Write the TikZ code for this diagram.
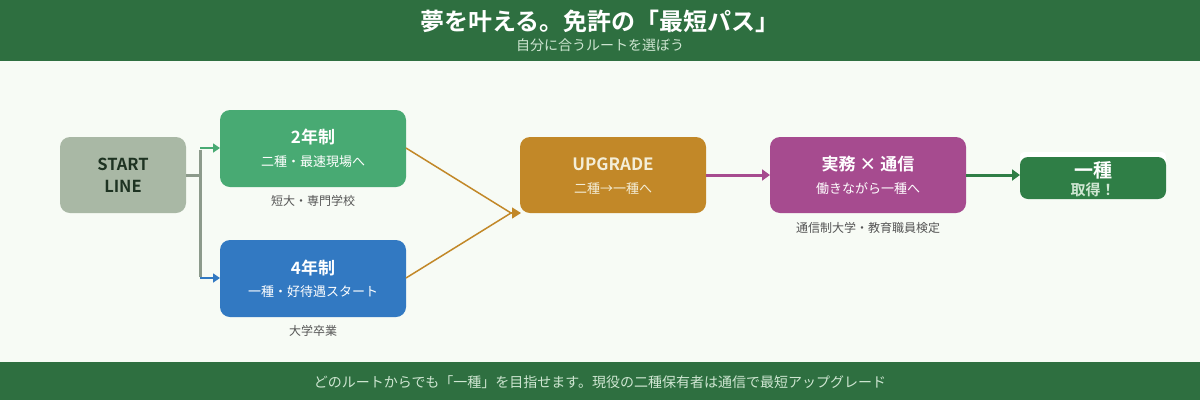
\documentclass[tikz,border=0pt]{standalone}
\usepackage{fontspec}
\setmainfont{Noto Sans CJK JP}
\newfontfamily\jpb{Noto Sans CJK JP Bold}
\usetikzlibrary{arrows.meta}
\definecolor{hdr}{HTML}{2E6F40}
\definecolor{bg}{HTML}{F7FBF5}
\definecolor{subc}{HTML}{CFE6D2}
\definecolor{startc}{HTML}{A9B8A5}
\definecolor{startt}{HTML}{1E3322}
\definecolor{twoc}{HTML}{48AA73}
\definecolor{fourc}{HTML}{3279C2}
\definecolor{upc}{HTML}{C28828}
\definecolor{jitc}{HTML}{A64B8F}
\definecolor{endc}{HTML}{2F7E46}
\definecolor{trunk}{HTML}{8C9A8B}
\definecolor{lbl}{HTML}{555555}
\definecolor{ltext}{HTML}{F4EED8}
\tikzset{
  lab/.style={font=\fontsize{12}{14}\selectfont, text=lbl},
  conn/.style={line width=2.5pt, -{Triangle[length=7pt,width=9pt]}},
  link/.style={line width=1.5pt},
  ttl/.style={font=\jpb\fontsize{17}{19}\selectfont},
  stl/.style={font=\fontsize{13}{15}\selectfont},
}
\begin{document}
\begin{tikzpicture}[x=1pt,y=-1pt]
\useasboundingbox (0,0) rectangle (1200,400);
\fill[bg] (0,0) rectangle (1200,400);
\fill[hdr] (0,0) rectangle (1200,61);
\fill[hdr] (0,362) rectangle (1200,400);
\node[text=white, font=\jpb\fontsize{24}{26}\selectfont] (title) at (600,21) {夢を叶える。免許の「最短パス」};
\node[text=subc, font=\fontsize{14}{16}\selectfont] (sub) at (600,45) {自分に合うルートを選ぼう};
\node[text=subc, font=\fontsize{14}{16}\selectfont] (foot) at (600,382) {どのルートからでも「一種」を目指せます。現役の二種保有者は通信で最短アップグレード};
% boxes
\fill[startc, rounded corners=10pt] (60,137) rectangle (186,213);
\node[text=startt, font=\jpb\fontsize{16.5}{22}\selectfont, align=center] (start) at (123,175) {START\\LINE};
\coordinate (startE) at (186,175);
\fill[twoc, rounded corners=10pt] (220,110) rectangle (406,187);
\node[text=white, ttl] (twoT) at (313,137) {2年制};
\node[text=white, stl] (twoS) at (313,162) {二種・最速現場へ};
\node[lab] (twoL) at (313,201) {短大・専門学校};
\fill[fourc, rounded corners=10pt] (220,240) rectangle (406,317);
\node[text=white, ttl] (fourT) at (313,268) {4年制};
\node[text=white, stl] (fourS) at (313,292) {一種・好待遇スタート};
\node[lab] (fourL) at (313,331) {大学卒業};
\fill[upc, rounded corners=10pt] (520,137) rectangle (706,213);
\node[text=ltext, ttl] (upT) at (613,164) {UPGRADE};
\node[text=ltext, stl] (upS) at (613,189) {二種→一種へ};
\fill[jitc, rounded corners=10pt] (770,137) rectangle (966,213);
\node[text=white, ttl] (jT) at (868,164) {実務 × 通信};
\node[text=white, stl] (jS) at (868,189) {働きながら一種へ};
\node[lab] (jL) at (868,228) {通信制大学・教育職員検定};
\fill[white, rounded corners=4pt] (1020,152) rectangle (1166,165);
\fill[endc, rounded corners=8pt] (1020,157) rectangle (1166,199);
\node[text=white, font=\jpb\fontsize{19}{20}\selectfont] (eT) at (1093,170) {一種};
\node[text=subc, font=\jpb\fontsize{15}{16}\selectfont] (eS) at (1093,190) {取得！};
% anchors
\coordinate (twoW) at (220,148);
\coordinate (fourW) at (220,278);
\coordinate (twoE) at (406,148);
\coordinate (fourE) at (406,278);
\coordinate (upSW) at (521,213);
\coordinate (upTip) at (511,213);
\coordinate (upE) at (706,175);
\coordinate (jW) at (770,175);
\coordinate (jE) at (966,175);
\coordinate (eW) at (1020,175);
\coordinate (tr) at (200,175);
\coordinate (trT) at (200,148);
\coordinate (trB) at (200,278);
% connectors
\draw[trunk, line width=3pt] (startE) -- (tr);
\draw[trunk, line width=3pt] ([yshift=-1.5pt]trT) -- ([yshift=1.5pt]trB);
\draw[conn, twoc] (trT) -- (twoW);
\draw[conn, fourc] (trB) -- (fourW);
\draw[link, upc] (twoE) -- (upTip);
\draw[link, upc] (fourE) -- (upTip);
\draw[upc, line width=1.5pt, -{Triangle[length=9pt,width=11pt]}] (upTip) -- (upSW);
\draw[jitc, line width=3pt, -{Triangle[length=8pt,width=11pt]}] (upE) -- (jW);
\draw[endc, line width=3pt, -{Triangle[length=8pt,width=11pt]}] (jE) -- (eW);
\end{tikzpicture}
\end{document}
